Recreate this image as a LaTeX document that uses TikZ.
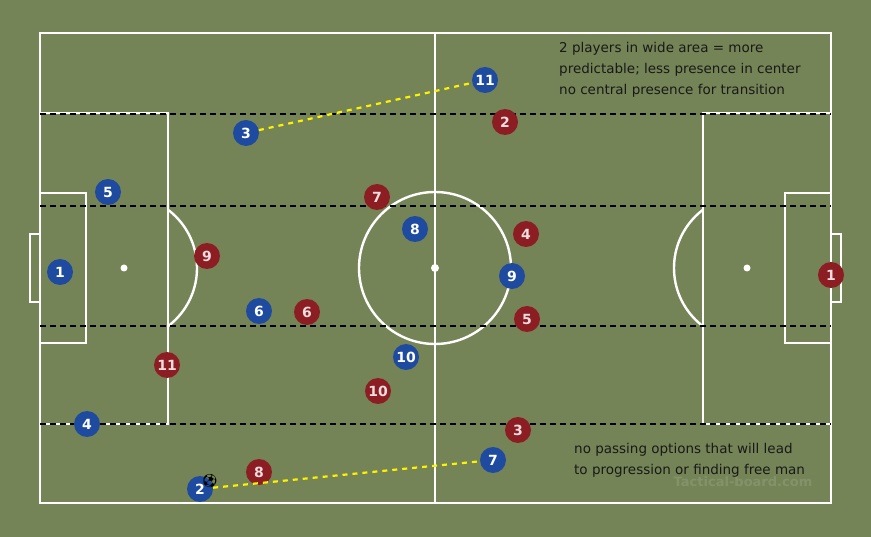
\documentclass[tikz,border=0pt]{standalone}
\usepackage{fontspec}
\setmainfont{DejaVu Sans}
\newfontfamily\emo{Noto Emoji}
\definecolor{grass}{RGB}{116,132,86}
\definecolor{bl}{RGB}{30,75,160}
\definecolor{rd}{RGB}{140,30,35}
\begin{document}
\begin{tikzpicture}[x=1pt,y=-1pt,
  line/.style={white,line width=2.4pt},
  zone/.style={black,line width=2.2pt,dash pattern=on 6pt off 4pt},
  pass/.style={yellow,line width=2.2pt,dash pattern=on 5pt off 5pt},
  bp/.style={circle,fill=bl,minimum size=26pt,inner sep=0pt,text=white,font=\bfseries\fontsize{14}{14}\selectfont},
  rp/.style={circle,fill=rd,minimum size=26pt,inner sep=0pt,text=white!85!rd,font=\bfseries\fontsize{14}{14}\selectfont},
  note/.style={font=\fontsize{13.5}{21}\selectfont,align=left,anchor=north west,inner sep=0pt,text=black!90}]
\fill[grass] (0,0) rectangle (871,537);
\useasboundingbox (0,0) rectangle (871,537);
% pitch
\draw[line] (40,33) rectangle (831,503);
\draw[line] (435,33) -- (435,503);
\draw[line] (435,268) circle (76);
\fill[white] (435,268) circle (4);
\draw[line] (40,113) rectangle (168,424);
\draw[line] (40,193) rectangle (86,343);
\draw[line] (30,234) rectangle (40,302);
\fill[white] (124,268) circle (3.5);
\begin{scope}
\clip (169,0) rectangle (435,537);
\draw[line] (124,268) circle (73);
\end{scope}
\draw[line] (703,113) rectangle (831,424);
\draw[line] (785,193) rectangle (831,343);
\draw[line] (831,234) rectangle (841,302);
\fill[white] (747,268) circle (3.5);
\begin{scope}
\clip (435,0) rectangle (702,537);
\draw[line] (747,268) circle (73);
\end{scope}
% zones
\foreach \y in {114,206,326,424} \draw[zone] (40,\y) -- (831,\y);
% players
\node[bp] (b11) at (485,80) {11};
\node[bp] (b3) at (246,133) {3};
\node[bp] (b5) at (108,192) {5};
\node[bp] (b1) at (60,272) {1};
\node[bp] (b8) at (415,229) {8};
\node[bp] (b9) at (512,276) {9};
\node[bp] (b6) at (259,311) {6};
\node[bp] (b10) at (406,357) {10};
\node[bp] (b4) at (87,424) {4};
\node[bp] (b7) at (493,460) {7};
\node[bp] (b2) at (200,489) {2};
\node[rp] (r2) at (505,122) {2};
\node[rp] (r7) at (377,197) {7};
\node[rp] (r4) at (526,234) {4};
\node[rp] (r9) at (207,256) {9};
\node[rp] (r1) at (831,275) {1};
\node[rp] (r6) at (307,312) {6};
\node[rp] (r5) at (527,319) {5};
\node[rp] (r11) at (167,365) {11};
\node[rp] (r10) at (378,391) {10};
\node[rp] (r3) at (518,430) {3};
\node[rp] (r8) at (259,472) {8};
% passes
\draw[pass] (b3) -- (b11);
\draw[pass] (b2) -- (b7);
\node (ball) at (210,481) {\emo\fontsize{13}{13}\selectfont ⚽};
% notes
\node[note] (t1) at (559,42) {2 players in wide area = more\\predictable; less presence in center\\no central presence for transition};
\node[note] (t2) at (574,443) {no passing options that will lead\\to progression or finding free man};
\node[text=white,opacity=0.12,font=\bfseries\fontsize{13}{13}\selectfont] (wm) at (743,482) {Tactical-board.com};
\end{tikzpicture}
\end{document}
